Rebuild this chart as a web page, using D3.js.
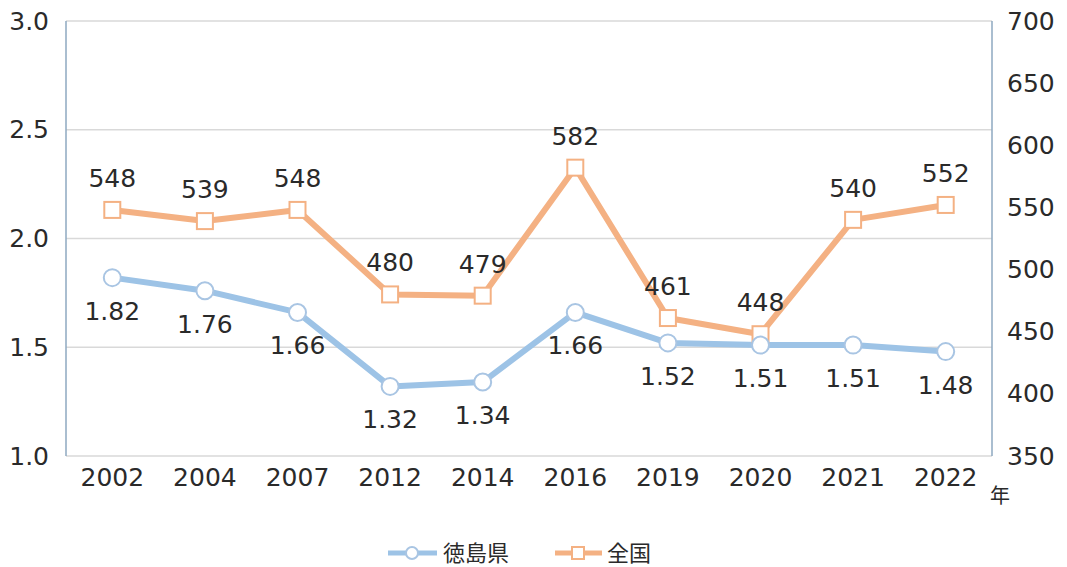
<!DOCTYPE html>
<html lang="ja">
<head>
<meta charset="utf-8">
<title>徳島県と全国</title>
<script src="https://cdn.jsdelivr.net/npm/d3@7"></script>
<style>
  html, body { margin: 0; padding: 0; background: #fff; overflow: hidden; }
  svg text { font-family: "DejaVu Sans", "Noto Sans CJK JP", sans-serif; fill: #2a2a2a; }
</style>
</head>
<body>
<div id="chart"></div>
<script>
var years = ["2002", "2004", "2007", "2012", "2014", "2016", "2019", "2020", "2021", "2022"];
var tokushima = [1.82, 1.76, 1.66, 1.32, 1.34, 1.66, 1.52, 1.51, 1.51, 1.48];
var zenkoku = [548, 539, 548, 480, 479, 582, 461, 448, 540, 552];
var leftTicks = [1.0, 1.5, 2.0, 2.5, 3.0];
var rightTicks = [350, 400, 450, 500, 550, 600, 650, 700];
var seriesNames = ["徳島県", "全国"];

var w = 1067, h = 567;
var pLeft = 66, pRight = 992, pTop = 21, pBottom = 456;
var blue = "#9dc3e6", orange = "#f4b183";
var fs = "25px";

var svg = d3.select("#chart").append("svg")
  .attr("width", w).attr("height", h);

var x = d3.scaleBand().domain(years).range([pLeft, pRight]);
var yL = d3.scaleLinear().domain([1.0, 3.0]).range([pBottom, pTop]);
var yR = d3.scaleLinear().domain([350, 700]).range([pBottom, pTop]);

// gridlines
svg.append("g").selectAll("line")
  .data(leftTicks)
  .enter().append("line")
  .attr("x1", pLeft).attr("x2", pRight)
  .attr("y1", function(d){ return yL(d); })
  .attr("y2", function(d){ return yL(d); })
  .attr("stroke", "#d9d9d9").attr("stroke-width", 1.5);

// vertical axis lines
svg.append("line").attr("x1", pLeft).attr("x2", pLeft).attr("y1", pTop).attr("y2", pBottom)
  .attr("stroke", "#8ea9c1").attr("stroke-width", 1.5);
svg.append("line").attr("x1", pRight).attr("x2", pRight).attr("y1", pTop).attr("y2", pBottom)
  .attr("stroke", "#8ea9c1").attr("stroke-width", 1.5);

// left axis
var axL = svg.append("g").attr("transform", "translate(" + pLeft + ",0)")
  .call(d3.axisLeft(yL).tickValues(leftTicks).tickSize(0).tickPadding(17).tickFormat(d3.format(".1f")));
axL.select(".domain").remove();
axL.selectAll("text").style("font-size", fs).attr("fill", "#2a2a2a");

// right axis
var axR = svg.append("g").attr("transform", "translate(" + pRight + ",0)")
  .call(d3.axisRight(yR).tickValues(rightTicks).tickSize(0).tickPadding(15));
axR.select(".domain").remove();
axR.selectAll("text").style("font-size", fs).attr("fill", "#2a2a2a");

// x axis
var axX = svg.append("g").attr("transform", "translate(0," + pBottom + ")")
  .call(d3.axisBottom(x).tickSize(0).tickPadding(12));
axX.select(".domain").remove();
axX.selectAll("text").style("font-size", fs).attr("fill", "#2a2a2a");

svg.append("text").attr("x", 990).attr("y", 503).style("font-size", "20px")
  .style("font-family", "'Noto Sans CJK JP'").text("年");

function cx(d, i){ return x(years[i]) + x.bandwidth() / 2; }

// 全国 line
svg.append("path").datum(zenkoku)
  .attr("fill", "none").attr("stroke", orange).attr("stroke-width", 6)
  .attr("stroke-linejoin", "round")
  .attr("d", d3.line().x(cx).y(function(d){ return yR(d); }));

// 徳島県 line
svg.append("path").datum(tokushima)
  .attr("fill", "none").attr("stroke", blue).attr("stroke-width", 6)
  .attr("stroke-linejoin", "round")
  .attr("d", d3.line().x(cx).y(function(d){ return yL(d); }));

svg.append("g").selectAll("rect").data(zenkoku).enter().append("rect")
  .attr("x", function(d, i){ return cx(d, i) - 8; })
  .attr("y", function(d){ return yR(d) - 8; })
  .attr("width", 16).attr("height", 16)
  .attr("fill", "#fff").attr("stroke", orange).attr("stroke-width", 2);

svg.append("g").selectAll("circle").data(tokushima).enter().append("circle")
  .attr("cx", cx).attr("cy", function(d){ return yL(d); }).attr("r", 8.5)
  .attr("fill", "#fff").attr("stroke", "#a9c5e3").attr("stroke-width", 2);

// data labels
svg.append("g").selectAll("text").data(zenkoku).enter().append("text")
  .attr("x", cx).attr("y", function(d){ return yR(d) - 23; })
  .attr("text-anchor", "middle").style("font-size", fs).text(function(d){ return d; });

svg.append("g").selectAll("text").data(tokushima).enter().append("text")
  .attr("x", cx).attr("y", function(d){ return yL(d) + 42; })
  .attr("text-anchor", "middle").style("font-size", fs).text(function(d){ return d3.format(".2f")(d); });

// legend
var lg = svg.append("g");
lg.append("line").attr("x1", 388).attr("x2", 437).attr("y1", 553).attr("y2", 553)
  .attr("stroke", blue).attr("stroke-width", 5);
lg.append("circle").attr("cx", 412).attr("cy", 553).attr("r", 6)
  .attr("fill", "#fff").attr("stroke", "#a9c5e3").attr("stroke-width", 2);
lg.append("text").attr("x", 443).attr("y", 561).style("font-size", "22px")
  .style("font-family", "'Noto Sans CJK JP'").text(seriesNames[0]);
lg.append("line").attr("x1", 555).attr("x2", 602).attr("y1", 553).attr("y2", 553)
  .attr("stroke", orange).attr("stroke-width", 5);
lg.append("rect").attr("x", 572).attr("y", 547).attr("width", 12).attr("height", 12)
  .attr("fill", "#fff").attr("stroke", orange).attr("stroke-width", 2);
lg.append("text").attr("x", 607).attr("y", 561).style("font-size", "22px")
  .style("font-family", "'Noto Sans CJK JP'").text(seriesNames[1]);
</script>
</body>
</html>
